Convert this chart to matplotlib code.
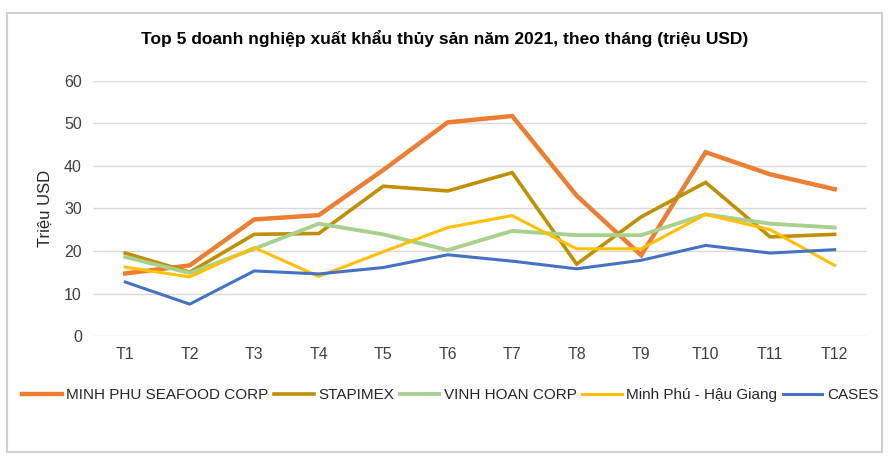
import matplotlib.pyplot as plt
from matplotlib.patches import Rectangle

plt.rcParams['font.family'] = ['Liberation Sans', 'DejaVu Sans']

months = ["T1", "T2", "T3", "T4", "T5", "T6", "T7", "T8", "T9", "T10", "T11", "T12"]

minh_phu = [14.7, 16.6, 27.4, 28.4, 39.0, 50.2, 51.7, 33.0, 19.0, 43.2, 38.0, 34.5]
stapimex = [19.5, 15.0, 23.9, 24.1, 35.2, 34.1, 38.4, 16.9, 28.0, 36.1, 23.3, 23.9]
vinh_hoan = [18.6, 14.8, 20.5, 26.4, 23.9, 20.2, 24.7, 23.7, 23.7, 28.6, 26.4, 25.5]
minh_phu_hg = [16.2, 13.9, 20.8, 14.0, 19.8, 25.5, 28.3, 20.5, 20.5, 28.6, 25.0, 16.6]
cases = [12.7, 7.5, 15.3, 14.6, 16.1, 19.1, 17.6, 15.8, 17.8, 21.3, 19.5, 20.3]

series = [
    ("MINH PHU SEAFOOD CORP", minh_phu, "#ED7D31", 3.2),
    ("STAPIMEX", stapimex, "#BF9000", 2.6),
    ("VINH HOAN CORP", vinh_hoan, "#A9D18E", 2.8),
    ("Minh Phú - Hậu Giang", minh_phu_hg, "#FFC000", 2.2),
    ("CASES", cases, "#4472C4", 2.2),
]

fig = plt.figure(figsize=(8.9, 4.61), dpi=100)
ax = fig.add_axes([0.1045, 0.271, 0.8695, 0.554])

x = range(len(months))
for name, vals, color, lw in series:
    ax.plot(x, vals, color=color, linewidth=lw, label=name, solid_joinstyle='miter')

ax.set_xlim(-0.5, len(months) - 0.5)
ax.set_ylim(0, 60)
ax.set_yticks(range(0, 61, 10))
ax.set_xticks(list(x))
ax.set_xticklabels(months)
ax.grid(axis='y', color='#D9D9D9', linewidth=1)
ax.set_axisbelow(True)
for s in ax.spines.values():
    s.set_visible(False)
ax.tick_params(length=0, labelsize=11.5, colors='#404040', pad=8)
ax.set_ylabel("Triệu USD", fontsize=12, color='#262626', labelpad=8)

fig.suptitle("Top 5 doanh nghiệp xuất khẩu thủy sản năm 2021, theo tháng (triệu USD)",
             fontsize=12.5, fontweight='bold', y=0.935, x=0.5)

leg = fig.legend(loc='center', bbox_to_anchor=(0.506, 0.143), ncol=5, frameon=False,
                 fontsize=11, handlelength=2.6, columnspacing=0.35, handletextpad=0.3)
for t in leg.get_texts():
    t.set_color('#262626')

fig.patches.append(Rectangle((7 / 890, 1 - 452 / 461), 875 / 890, 439 / 461,
                             transform=fig.transFigure, fill=False,
                             edgecolor='#D0D0D0', linewidth=1.5))

fig.savefig("out.png", dpi=100)
